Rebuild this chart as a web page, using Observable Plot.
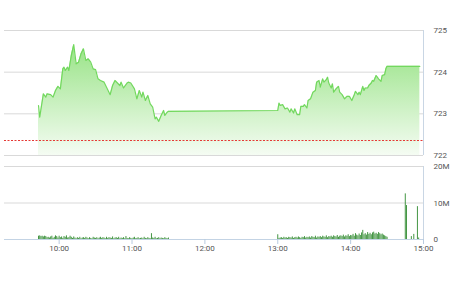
<!DOCTYPE html>
<html>
<head>
<meta charset="utf-8">
<script src="https://cdn.jsdelivr.net/npm/d3@7"></script>
<script src="https://cdn.jsdelivr.net/npm/@observablehq/plot@0.6"></script>
<style>
  html, body { margin: 0; padding: 0; background: #fff; }
  #wrap { position: relative; width: 450px; height: 281px; overflow: hidden; font-family: Roboto, "Liberation Sans", sans-serif; }
  #topPanel, #botPanel { position: absolute; left: 0; }
  #topPanel { top: 0; }
  #botPanel { top: 160px; }
</style>
</head>
<body>
<div id="wrap"><div id="topPanel"></div><div id="botPanel"></div></div>
<script>
// ---- Data ----
const priceTimes = ["9:43","9:44","9:47","9:49","9:50","9:53","9:55","9:57","9:59","10:01","10:03","10:04","10:05","10:07","10:08","10:10","10:12","10:14","10:16","10:18","10:20","10:22","10:24","10:26","10:28","10:30","10:32","10:34","10:37","10:39","10:42","10:44","10:46","10:48","10:50","10:51","10:53","10:56","10:57","10:59","11:02","11:04","11:06","11:08","11:09","11:11","11:13","11:15","11:17","11:19","11:20","11:22","11:24","11:26","11:27","11:29","11:30",
"13:00","13:01","13:02","13:04","13:06","13:08","13:10","13:11","13:13","13:14","13:16","13:18","13:19","13:21","13:22","13:24","13:25","13:27","13:29","13:31","13:32","13:34","13:35","13:37","13:38","13:40","13:41","13:42","13:44","13:45","13:46","13:48","13:50","13:51","13:53","13:55","13:57","13:59","14:01","14:03","14:04","14:06","14:07","14:08","14:10","14:11","14:12","14:14","14:15","14:17","14:18","14:19","14:21","14:22","14:23","14:25","14:26","14:28","14:29","14:30","14:57"];
const priceValues = [723.2,722.92,723.48,723.4,723.48,723.46,723.4,723.56,723.66,723.6,724.08,724.12,724.04,724.12,724.04,724.4,724.66,724.2,724.24,724.44,724.56,724.28,724.32,724.24,724.08,724.06,723.84,723.8,723.76,723.64,723.46,723.68,723.8,723.74,723.68,723.76,723.62,723.74,723.76,723.74,723.6,723.36,723.56,723.4,723.52,723.32,723.44,723.24,723.16,722.88,722.92,722.82,722.96,723.08,722.96,723.04,723.06,
723.08,723.26,723.2,723.22,723.12,723.14,723.04,723.12,723.02,723.12,722.98,722.98,723.18,723.18,723.22,723.14,723.32,723.36,723.52,723.56,723.76,723.8,723.64,723.84,723.76,723.82,723.88,723.74,723.62,723.72,723.52,723.6,723.66,723.52,723.46,723.36,723.42,723.42,723.32,723.46,723.54,723.46,723.52,723.46,723.66,723.56,723.62,723.62,723.68,723.74,723.8,723.78,723.92,723.88,723.84,723.78,723.92,723.94,724.08,724.14,724.14];
const refPrice = 722.36;

// volume (millions), one bar per minute from each session start
const volMorningStart = "9:43";
const volMorning = [0.9,1.0,0.8,0.9,0.7,0.9,0.8,0.5,0.6,0.4,0.7,0.9,0.3,0.6,1.0,0.8,0.4,0.9,0.5,0.7,0.3,0.8,0.6,1.0,0.4,0.5,0.9,0.6,0.3,0.7,0.4,0.2,0.5,0.3,0.6,0.2,0.4,0.5,0.3,0.6,0.4,0.2,0.5,0.3,0.2,0.6,0.4,0.3,0.5,0.2,0.4,0.6,0.3,0.5,0.4,0.2,0.6,0.3,0.5,0.4,0.3,0.7,0.2,0.4,0.5,0.3,0.6,0.2,0.4,0.3,0.5,0.2,0.8,0.3,0.2,0.5,0.3,0.2,0.4,0.6,0.2,0.3,0.5,0.2,0.3,0.4,0.2,0.6,0.3,0.2,0.5,0.3,0.2,1.6,0.4,0.3,0.6,0.2,0.3,0.5,0.2,0.4,0.3,0.2,0.5,0.3,0.2,0.4];
const volAfternoonStart = "13:00";
const volAfternoon = [1.3,0.3,0.4,0.5,0.3,0.6,0.4,0.5,0.3,0.6,0.5,0.4,0.7,0.3,0.5,0.6,0.4,0.7,0.5,0.3,0.6,0.5,0.8,0.4,0.6,0.5,0.7,0.4,0.8,0.6,0.5,0.9,0.4,0.7,0.6,0.8,0.5,0.9,0.7,0.6,1.0,0.5,0.8,0.7,0.9,0.6,1.0,0.8,0.7,1.1,0.6,0.9,1.0,0.8,1.2,0.7,1.0,0.9,1.3,0.8,1.1,1.0,1.4,0.9,1.6,1.2,1.0,1.5,1.1,1.8,2.5,1.3,1.6,1.2,1.9,1.4,1.7,1.3,1.8,2.0,1.5,1.7,1.4,1.9,1.6,1.3,1.5,1.2,1.0,0.8,0.6];
const volLateTimes = ["14:45","14:46","14:50","14:52","14:55","14:56"];
const volLate = [12.5,9.3,0.8,1.4,9.0,0.4];

const priceTicks = [722,723,724,725];
const volTicks = [0,10,20];
const hourTicks = ["10:00","11:00","12:00","13:00","14:00","15:00"];
const xDomain = ["9:15","15:00"];

// ---- Helpers ----
function T(s){ const [h,m] = s.split(":").map(Number); return new Date(Date.UTC(2017,0,2,h,m)); }
const price = priceTimes.map((s,i) => ({t: T(s), p: priceValues[i]}));
function session(start, vals){ const s = T(start); return vals.map((v,i) => ({t: new Date(+s + i*60000), v})); }
const volume = [
  ...session(volMorningStart, volMorning),
  ...session(volAfternoonStart, volAfternoon),
  ...volLateTimes.map((s,i) => ({t: T(s), v: volLate[i]}))
];
const fmt = d3.utcFormat("%H:%M");
const font = "Roboto, 'Liberation Sans', sans-serif";

const gradient = () => {
  const defs = d3.create("svg:defs");
  const g = defs.append("linearGradient").attr("id","gfill").attr("x1",0).attr("y1",0).attr("x2",0).attr("y2",1);
  g.append("stop").attr("offset","0%").attr("stop-color","#98e386");
  g.append("stop").attr("offset","100%").attr("stop-color","#f5fcf3");
  return defs.node();
};

const common = {
  width: 450, marginLeft: 4, marginRight: 27,
  style: {fontFamily: font, fontSize: "8px", color: "#555", background: "transparent"}
};

const topChart = Plot.plot({
  ...common,
  height: 160, marginTop: 30, marginBottom: 5,
  x: {type: "utc", domain: xDomain.map(T), axis: null},
  y: {domain: [722, 725], axis: null},
  marks: [
    gradient,
    Plot.gridY(priceTicks, {stroke: "#d9d9d9", strokeOpacity: 1}),
    Plot.areaY(price, {x: "t", y1: 722, y2: "p", fill: "url(#gfill)"}),
    Plot.lineY(price, {x: "t", y: "p", stroke: "#72d85e", strokeWidth: 1.2}),
    Plot.ruleY([refPrice], {stroke: "#e53935", strokeWidth: 1, strokeDasharray: "2,1.5"}),
    Plot.ruleX([T(xDomain[1])], {stroke: "#c9d6e4"}),
    Plot.axisY(priceTicks, {anchor: "right", tickSize: 0, tickPadding: 10, label: null, fill: "#555"})
  ]
});
document.getElementById("topPanel").appendChild(topChart);

const botChart = Plot.plot({
  ...common,
  height: 100, marginTop: 6, marginBottom: 21,
  x: {type: "utc", domain: xDomain.map(T)},
  y: {domain: [0, 20]},
  marks: [
    Plot.gridY([10, 20], {stroke: "#d9d9d9", strokeOpacity: 1}),
    Plot.ruleX(volume, {x: "t", y1: 0, y2: "v", stroke: "#2f8a2f", strokeWidth: 0.9}),
    Plot.ruleY([0], {stroke: "#c3d3e4"}),
    Plot.ruleX([T(xDomain[1])], {stroke: "#c9d6e4"}),
    Plot.axisX(hourTicks.map(T), {tickSize: 5, tickPadding: 1, stroke: "#b9cbe0", fill: "#555", tickFormat: fmt, label: null}),
    Plot.axisY(volTicks, {anchor: "right", tickSize: 0, tickPadding: 10, label: null, fill: "#555", tickFormat: d => d === 0 ? "0" : d + "M"})
  ]
});
document.getElementById("botPanel").appendChild(botChart);
</script>
</body>
</html>
